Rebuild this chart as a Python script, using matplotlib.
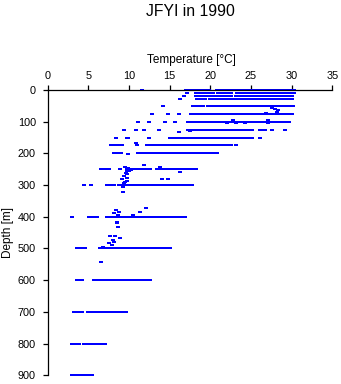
import matplotlib
matplotlib.use('Agg')
import matplotlib.pyplot as plt

# ---------------- data ----------------
title = "JFYI in 1990"
x_label = "Temperature [°C]"
y_label = "Depth [m]"
x_ticks = [0, 5, 10, 15, 20, 25, 30, 35]
y_ticks = [0, 100, 200, 300, 400, 500, 600, 700, 800, 900]

depths = [0, 10, 20, 30, 50, 75, 100, 125, 150, 175, 200, 250, 300, 400, 500, 600, 700, 800, 900]

t_000 = [11.6, 17.0, 17.3, 17.8, 18.1, 18.3, 18.6, 18.9, 19.2, 19.5, 19.8, 20.8, 21.1, 21.5, 21.8, 22.1, 22.4, 22.7, 23.0, 23.3, 23.6, 23.9, 24.2, 24.5, 24.8, 25.1, 25.4, 25.7, 26.0, 26.3, 26.6, 26.9, 27.2, 27.5, 27.8, 28.1, 28.4, 28.7, 29.0, 29.3, 29.6, 30.0, 30.3]
t_010 = [17.1, 18.2, 18.5, 19.0, 19.3, 19.6, 20.0, 20.3, 20.9, 21.2, 21.5, 22.0, 22.3, 22.6, 23.3, 23.6, 23.9, 24.2, 24.5, 24.8, 25.1, 25.4, 25.7, 26.0, 26.3, 26.6, 26.9, 27.2, 27.5, 27.8, 28.1, 28.4, 28.7, 29.0, 29.4, 29.7, 30.0, 30.3]
t_020 = [16.7, 18.2, 18.6, 18.9, 19.4, 19.7, 20.2, 20.5, 20.8, 21.1, 21.6, 21.9, 22.2, 22.5, 23.1, 23.4, 23.7, 24.0, 24.3, 24.6, 24.9, 25.2, 25.5, 25.8, 26.1, 26.4, 26.7, 27.0, 27.3, 27.6, 27.9, 28.2, 28.5, 28.8, 29.1, 29.5, 29.8, 30.1]
t_030 = [16.3, 18.3, 18.6, 19.1, 19.4, 19.9, 20.2, 20.6, 21.0, 21.3, 21.7, 22.0, 22.3, 22.7, 23.0, 23.5, 23.8, 24.1, 24.4, 24.7, 25.0, 25.3, 25.6, 25.9, 26.2, 26.5, 26.8, 27.1, 27.4, 27.7, 28.0, 28.3, 28.6, 28.9, 29.2, 29.5, 29.8, 30.1]
t_050 = [14.2, 17.9, 18.2, 18.5, 18.8, 19.1, 19.7, 20.0, 20.4, 20.9, 21.2, 21.5, 21.8, 22.1, 22.4, 22.7, 23.0, 23.3, 23.6, 23.9, 24.2, 24.5, 24.8, 25.1, 25.4, 25.7, 26.0, 26.3, 26.6, 26.9, 27.2, 27.5, 27.8, 28.1, 28.4, 28.7, 29.0, 29.3, 29.6, 29.9, 30.2]
t_075 = [12.8, 14.8, 16.1, 17.6, 18.1, 18.4, 18.7, 19.0, 19.3, 19.6, 19.9, 20.2, 20.5, 20.8, 21.1, 21.4, 21.7, 22.0, 22.3, 22.6, 22.9, 23.2, 23.5, 23.8, 24.1, 24.4, 24.7, 25.0, 25.3, 25.6, 25.9, 26.2, 26.5, 26.8, 27.1, 27.4, 27.7, 28.0, 28.3, 28.6, 28.9, 29.2, 29.5, 29.8, 30.1]
t_100 = [11.1, 12.4, 14.4, 15.7, 17.3, 17.6, 17.9, 18.2, 18.5, 18.8, 19.1, 19.4, 19.7, 20.1, 20.5, 20.8, 21.1, 21.4, 21.7, 22.0, 22.3, 22.6, 22.9, 23.2, 23.5, 23.8, 24.1, 24.4, 24.7, 25.0, 25.3, 25.6, 25.9, 26.2, 26.5, 26.8, 27.1, 27.4, 27.7, 28.0, 28.3, 28.6, 29.1, 29.4, 29.7]
t_125 = [9.4, 10.8, 11.9, 13.7, 17.3, 17.6, 17.9, 18.2, 18.5, 18.8, 19.1, 19.4, 19.7, 20.0, 20.3, 20.6, 20.9, 21.2, 21.5, 21.8, 22.1, 22.4, 22.7, 23.0, 23.3, 23.6, 23.9, 24.2, 24.5, 24.8, 25.1, 26.1, 26.4, 26.7, 27.6, 29.2]
t_150 = [8.4, 9.9, 12.5, 15.0, 15.5, 15.8, 16.1, 16.4, 16.7, 17.0, 17.3, 17.6, 17.9, 18.2, 18.5, 18.8, 19.1, 19.4, 19.7, 20.0, 20.3, 20.6, 20.9, 21.2, 21.5, 21.8, 22.1, 22.4, 22.7, 23.0, 23.3, 23.6, 23.9, 24.2, 24.5, 24.8, 25.1, 26.1]
t_175 = [7.8, 8.2, 8.5, 8.8, 9.1, 11.0, 12.2, 12.5, 12.8, 13.1, 13.4, 13.7, 14.0, 14.3, 14.6, 14.9, 15.2, 15.5, 15.8, 16.1, 16.4, 16.7, 17.0, 17.3, 17.6, 17.9, 18.2, 18.5, 18.8, 19.1, 19.4, 19.7, 20.0, 20.3, 20.6, 20.9, 21.2, 21.5, 21.8, 22.1, 22.6, 23.2]
t_200 = [8.1, 8.4, 8.7, 9.0, 11.1, 11.4, 11.7, 12.0, 12.3, 12.6, 12.9, 13.2, 13.5, 13.8, 14.1, 14.4, 14.7, 15.0, 15.3, 15.6, 15.9, 16.2, 16.5, 16.8, 17.1, 17.4, 17.7, 18.0, 18.3, 18.6, 18.9, 19.2, 19.5, 19.8, 20.2, 20.5, 20.8]
t_250 = [6.6, 6.9, 7.2, 7.5, 8.9, 9.7, 10.0, 10.3, 10.6, 10.9, 11.2, 11.5, 11.8, 12.1, 12.4, 12.6, 13.4, 13.7, 14.0, 14.6, 14.9, 15.2, 15.5, 15.8, 16.1, 16.4, 16.7, 17.0, 17.3, 17.6, 17.9, 18.2]
t_300 = [4.4, 5.3, 7.3, 7.6, 7.9, 8.1, 8.8, 9.1, 9.4, 9.7, 10.0, 10.3, 10.6, 10.9, 11.2, 11.5, 11.7, 12.0, 12.3, 12.7, 13.0, 13.2, 13.5, 13.8, 14.1, 14.4, 14.7, 15.0, 15.3, 15.6, 15.9, 16.2, 16.5, 16.8, 17.1, 17.4, 17.7]
t_400 = [3.0, 5.1, 5.4, 5.7, 6.0, 7.3, 7.6, 7.9, 8.2, 8.5, 8.8, 9.1, 9.4, 9.7, 10.3, 10.6, 10.9, 11.1, 11.4, 11.7, 12.0, 12.3, 12.6, 12.9, 13.2, 13.5, 13.8, 14.1, 14.4, 14.7, 15.0, 15.3, 15.6, 15.9, 16.2, 16.5, 16.9]
t_500 = [3.6, 3.9, 4.2, 4.6, 6.4, 6.7, 7.0, 7.3, 7.6, 7.9, 8.2, 8.5, 8.8, 9.1, 9.4, 9.7, 10.0, 10.3, 10.6, 10.9, 11.2, 11.5, 11.8, 12.1, 12.4, 12.7, 13.0, 13.3, 13.6, 14.0, 14.5, 14.8, 15.0]
t_600 = [3.6, 3.9, 4.2, 5.7, 6.0, 6.3, 6.6, 6.9, 7.2, 7.5, 7.8, 8.1, 8.4, 8.7, 9.0, 9.3, 9.6, 9.9, 10.2, 10.6, 11.0, 11.5, 11.9, 12.2, 12.6]
t_700 = [3.2, 3.5, 3.8, 4.2, 5.0, 5.3, 5.6, 5.9, 6.2, 6.5, 6.8, 7.1, 7.4, 7.7, 8.0, 8.3, 8.6, 8.9, 9.2, 9.6]
t_800 = [3.0, 3.3, 3.6, 3.9, 4.5, 4.8, 5.1, 5.4, 5.7, 6.0, 6.3, 6.6, 6.9, 7.1]
t_900 = [3.0, 3.3, 3.6, 4.0, 4.3, 4.6, 4.9, 5.2, 5.5]

rows = [t_000, t_010, t_020, t_030, t_050, t_075, t_100, t_125, t_150, t_175,
        t_200, t_250, t_300, t_400, t_500, t_600, t_700, t_800, t_900]

# scattered casts between standard depths
extra_t = [27.6, 28.0, 28.3, 28.2, 26.9, 22.8, 27.1, 22.0, 24.3, 27.1, 23.2, 16.1, 17.5, 9.7, 10.8,
           9.9, 11.8, 13.8, 16.3, 9.5, 9.9, 10.1, 9.7, 10.0, 10.3, 9.6, 9.8, 9.4, 14.0, 14.8,
           9.1, 9.7, 9.8, 9.5, 9.4, 9.3, 9.3, 8.4, 8.8, 8.1, 8.6, 8.5, 8.5, 8.6, 12.1,
           11.3, 10.5, 7.7, 8.3, 8.9, 8.0, 7.5, 8.1, 7.9, 6.8, 6.5]
extra_d = [56, 59, 62, 68, 72, 96, 96, 104, 103, 104, 105, 133, 131, 153, 168,
           202, 237, 242, 258, 244, 246, 252, 255, 257, 253, 262, 266, 270, 281, 281,
           282, 279, 287, 290, 295, 307, 323, 379, 384, 388, 394, 415, 420, 433, 373,
           386, 394, 460, 460, 468, 472, 482, 478, 489, 494, 544]

# ---------------- plot ----------------
plt.rcParams['font.family'] = ['Liberation Sans', 'DejaVu Sans']

fig = plt.figure(figsize=(3.41, 3.84), dpi=100)
fig.patch.set_facecolor('white')
ax = fig.add_axes([0.140, 0.0227, 0.8345, 0.7430])

# small flat rectangle marker (wider than tall), like the dense sample dots
rect = [(-1.5, -1.0), (1.5, -1.0), (1.5, 1.0), (-1.5, 1.0), (-1.5, -1.0)]
mk = dict(linestyle='none', marker=rect, markersize=2.45, markeredgewidth=0,
          color='#0000ff', clip_on=False)
for d, ts in zip(depths, rows):
    ax.plot(ts, [d] * len(ts), **mk)
ax.plot(extra_t, extra_d, **mk)

ax.set_xlim(0, 35)
ax.set_ylim(900, 0)
ax.xaxis.tick_top()
ax.set_xticks(x_ticks)
ax.set_yticks(y_ticks)
for s in ['right', 'bottom']:
    ax.spines[s].set_visible(False)
for s in ['top', 'left']:
    ax.spines[s].set_linewidth(0.9)
ax.tick_params(axis='x', direction='out', length=3.6, width=0.9, labelsize=7.8, pad=3.0)
ax.tick_params(axis='y', direction='out', length=3.6, width=0.9, labelsize=7.8, pad=5.0)

fig.text(190 / 341, 1 - 12 / 384, title, ha='center', va='center', fontsize=11.3)
fig.text(191 / 341, 1 - 60 / 384, x_label, ha='center', va='center', fontsize=8.5)
fig.text(8 / 341, 1 - 232 / 384, y_label, ha='center', va='center', rotation=90, fontsize=8.5)

fig.savefig('out.png', dpi=100)
